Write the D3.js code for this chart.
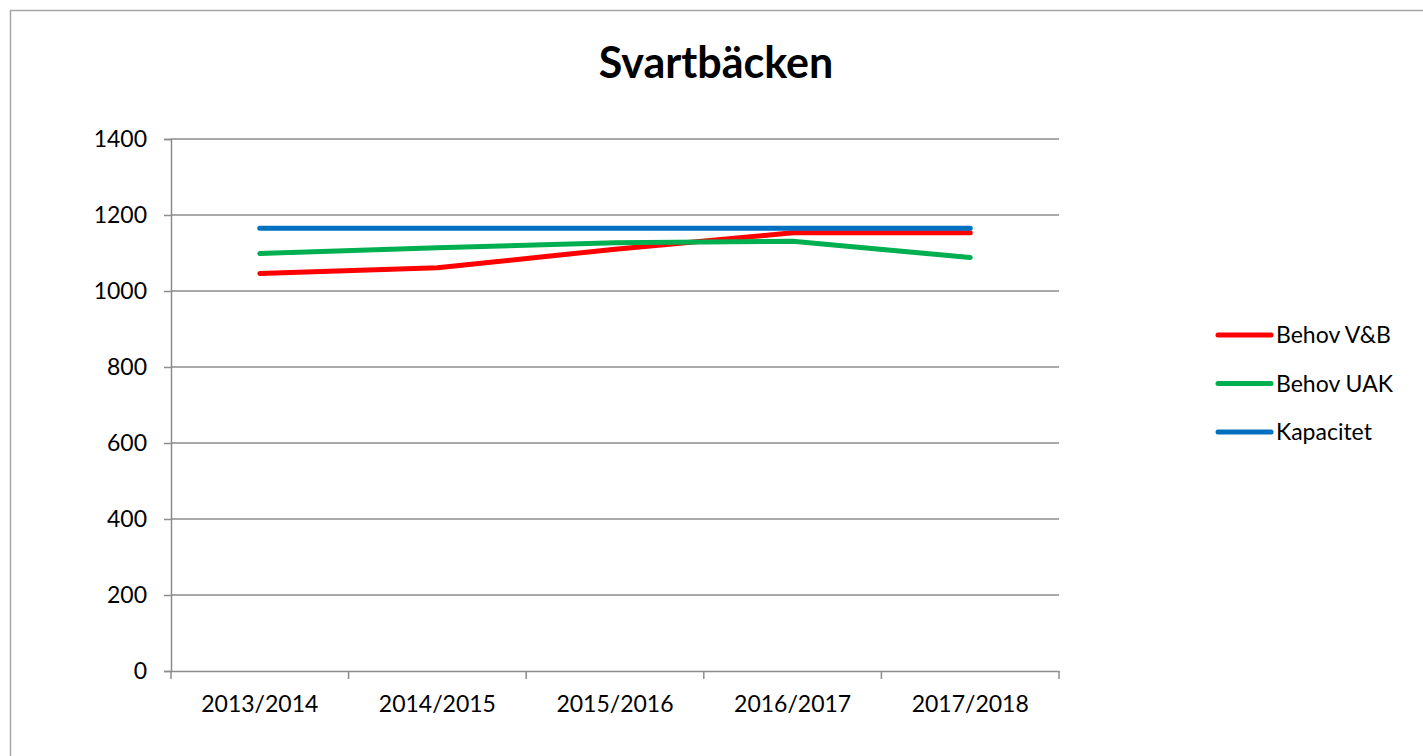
<!DOCTYPE html>
<html lang="sv">
<head>
<meta charset="UTF-8">
<title>Svartbäcken</title>
<script src="https://d3js.org/d3.v7.min.js"></script>
<style>
  body { margin: 0; background: #fff; font-family: Lato, "Open Sans", sans-serif; }
</style>
</head>
<body>
<div id="chart"></div>
<script>
const years = ["2013/2014", "2014/2015", "2015/2016", "2016/2017", "2017/2018"];
const behovVB = [1046, 1061, 1110, 1153, 1153];
const behovUAK = [1099, 1114, 1127, 1131, 1088];
const kapacitet = [1165, 1165, 1165, 1165, 1165];
const yTicks = [0, 200, 400, 600, 800, 1000, 1200, 1400];

const series = [
  { name: "Behov V&B", values: behovVB, color: "#ff0000" },
  { name: "Behov UAK", values: behovUAK, color: "#00b050" },
  { name: "Kapacitet", values: kapacitet, color: "#0070c0" }
];

const W = 1423, H = 756;
const plotL = 171, plotR = 1059, plotT = 139, plotB = 671;

const svg = d3.select("#chart").append("svg")
  .attr("width", W).attr("height", H);

// outer frame
svg.append("path")
  .attr("d", `M10.5,${H} L10.5,10.5 L${W},10.5`)
  .attr("fill", "none").attr("stroke", "#a6a6a6").attr("stroke-width", 1.5);

svg.append("text")
  .attr("x", 716).attr("y", 78)
  .attr("text-anchor", "middle")
  .style("font-size", "43px").style("font-weight", "bold")
  .text("Svartbäcken");

const x = d3.scaleBand().domain(years).range([plotL, plotR]);
const y = d3.scaleLinear().domain([0, 1400]).range([plotB, plotT]);

// gridlines
svg.append("g").selectAll("line").data(yTicks.filter(d => d > 0)).join("line")
  .attr("x1", plotL).attr("x2", plotR)
  .attr("y1", d => y(d)).attr("y2", d => y(d))
  .attr("stroke", "#8c8c8c").attr("stroke-width", 1.5);

// y axis
const yAxis = svg.append("g")
  .attr("transform", `translate(${plotL},0)`)
  .call(d3.axisLeft(y).tickValues(yTicks).tickFormat(d3.format("d")).tickSize(7).tickPadding(17));
yAxis.select(".domain").attr("stroke", "#8c8c8c").attr("stroke-width", 1.5);
yAxis.selectAll(".tick line").attr("stroke", "#8c8c8c").attr("stroke-width", 1.5);
yAxis.selectAll("text").style("font-size", "23px").style("font-family", "Lato, sans-serif").attr("fill", "#000");

// x axis
const xAxis = svg.append("g")
  .attr("transform", `translate(0,${plotB})`)
  .call(d3.axisBottom(x).tickSize(0).tickPadding(25));
xAxis.select(".domain").attr("stroke", "#8c8c8c").attr("stroke-width", 1.5);
xAxis.selectAll("text").style("font-size", "23px").style("font-family", "Lato, sans-serif").attr("fill", "#000");
svg.append("g").selectAll("line")
  .data(years.map(d => x(d)).concat([plotR]))
  .join("line")
  .attr("x1", d => d).attr("x2", d => d)
  .attr("y1", plotB).attr("y2", plotB + 8)
  .attr("stroke", "#8c8c8c").attr("stroke-width", 1.5);

// lines
const line = d3.line()
  .x((d, i) => x(years[i]) + x.bandwidth() / 2)
  .y(d => y(d));

svg.append("g").selectAll("path").data(series).join("path")
  .attr("d", d => line(d.values))
  .attr("fill", "none")
  .attr("stroke", d => d.color)
  .attr("stroke-width", 5)
  .attr("stroke-linecap", "round")
  .attr("stroke-linejoin", "round");

// legend
const legend = svg.append("g").selectAll("g").data(series).join("g")
  .attr("transform", (d, i) => `translate(1218,${335 + i * 48.5})`);
legend.append("line")
  .attr("x1", 0).attr("x2", 53)
  .attr("stroke", d => d.color).attr("stroke-width", 5).attr("stroke-linecap", "round");
legend.append("text")
  .attr("x", 58).attr("y", 8)
  .style("font-size", "23px")
  .text(d => d.name);
</script>
</body>
</html>
